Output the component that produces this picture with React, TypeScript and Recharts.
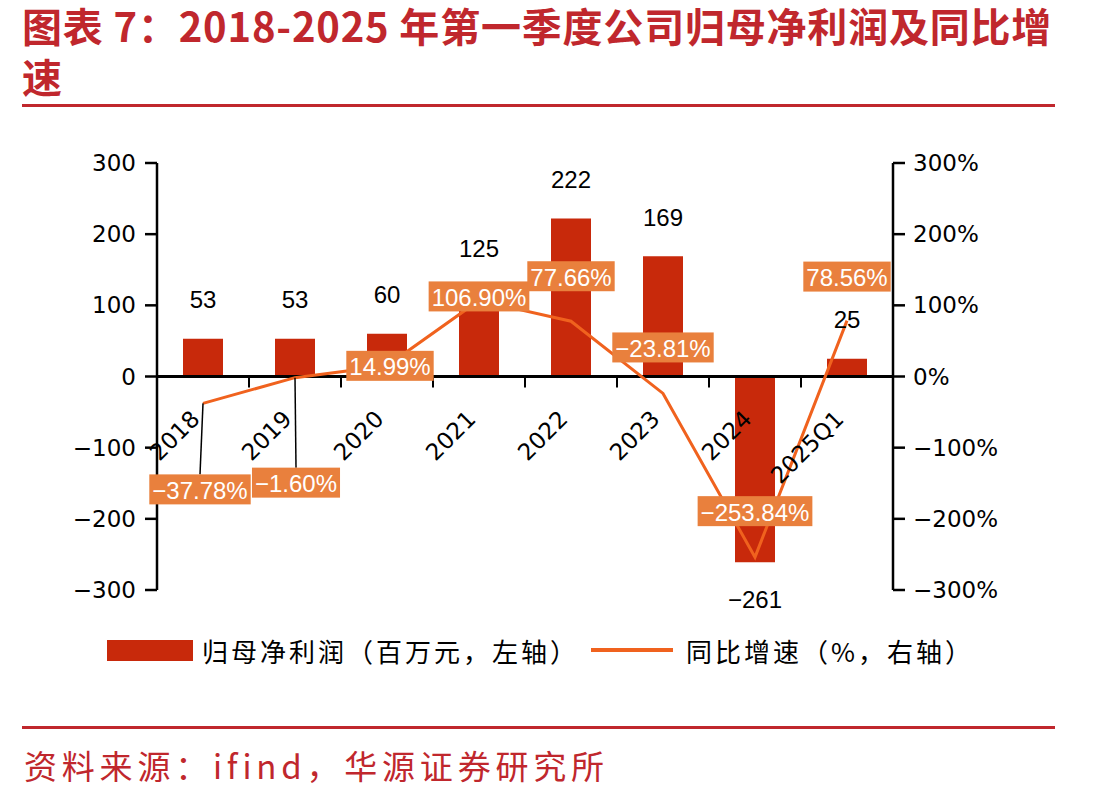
import {
  Bar,
  ComposedChart,
  LabelList,
  Legend,
  Line,
  ReferenceLine,
  XAxis,
  YAxis,
} from "recharts";

const YEARS = ["2018", "2019", "2020", "2021", "2022", "2023", "2024", "2025Q1"];
const PROFIT = [53, 53, 60, 125, 222, 169, -261, 25];
const GROWTH = [-37.78, -1.6, 14.99, 106.9, 77.66, -23.81, -253.84, 78.56];
const LEFT_TICKS = [-300, -200, -100, 0, 100, 200, 300];
const RIGHT_TICKS = [-300, -200, -100, 0, 100, 200, 300];

const data = YEARS.map((year, i) => ({ year, profit: PROFIT[i], growth: GROWTH[i] }));

const RED = "#C0272D";
const BAR = "#C8290B";
const LINE = "#F0621E";
const BOX = "#E9803D";
const NUM_FONT = "'Liberation Sans', Arial, sans-serif";
const AXIS_FONT = "'DejaVu Sans', sans-serif";
const CJK_FONT = "'Noto Sans CJK SC', sans-serif";

const W = 1113;
const H = 700;
const PLOT_TOP = 163;
const PLOT_LEFT = 157;
const PLOT_RIGHT = 893;
const PLOT_H = 427;
const ZERO_Y = PLOT_TOP + PLOT_H / 2;
const BAND = (PLOT_RIGHT - PLOT_LEFT) / YEARS.length;

// hand-moved growth labels: [dx, dy] of box centre vs. point
const GROWTH_LABEL_SHIFT: [number, number][] = [
  [-3, 86], [1, 105], [3, 0], [0, -4], [0, -45], [0, -46], [0, -46], [0, -44],
];

const fmtNum = (v: number) => (v < 0 ? `−${Math.abs(v)}` : `${v}`);
const fmtPct = (v: number) => (v < 0 ? `−${Math.abs(v).toFixed(2)}%` : `${v.toFixed(2)}%`);

// rough Arial advance widths, em
function textWidth(s: string, size: number) {
  let w = 0;
  for (const c of s) {
    if (c === ".") w += 0.278;
    else if (c === "%") w += 0.889;
    else if (c === "−") w += 0.584;
    else w += 0.556;
  }
  return w * size;
}

function XTick(props: any) {
  const { x, payload, index } = props;
  return (
    <g>
      {index > 0 && (
        <line x1={x - BAND / 2} x2={x - BAND / 2} y1={ZERO_Y} y2={ZERO_Y + 11} stroke="#000" strokeWidth={2} />
      )}
      <text
        x={x - 2} y={ZERO_Y + 44}
        transform={`rotate(-45 ${x - 2} ${ZERO_Y + 44})`}
        textAnchor="end" fontSize={23} fontFamily={AXIS_FONT} fill="#000"
      >
        {payload.value}
      </text>
    </g>
  );
}

function BarValue(props: any) {
  const vb = props.viewBox ?? props;
  const { x, y, width, height } = vb;
  const v = Number(props.value);
  const top = Math.min(y, y + height);
  const bottom = Math.max(y, y + height);
  const ty = v >= 0 ? top - 39 : bottom + 37;
  return (
    <text x={x + width / 2} y={ty} textAnchor="middle" dominantBaseline="central"
      fontSize={24} fontFamily={NUM_FONT} fill="#000">
      {fmtNum(v)}
    </text>
  );
}

function GrowthLabel(props: any) {
  const vb = props.viewBox ?? {};
  const px = props.x ?? vb.x;
  const py = props.y ?? vb.y;
  const v = Number(props.value);
  const i = props.index ?? GROWTH.indexOf(v);
  const [dx, dy] = GROWTH_LABEL_SHIFT[i] ?? [0, 0];
  const label = fmtPct(v);
  const bw = textWidth(label, 24) + 6;
  const bh = 30;
  const cx = px + dx;
  const cy = py + dy;
  return (
    <g>
      {Math.abs(dy) > 60 && (
        <line x1={px} y1={py} x2={cx} y2={cy - bh / 2} stroke="#000" strokeWidth={1.5} />
      )}
      <rect x={cx - bw / 2} y={cy - bh / 2} width={bw} height={bh} fill={BOX} />
      <text x={cx} y={cy + 1} textAnchor="middle" dominantBaseline="central"
        fontSize={24} fontFamily={NUM_FONT} fill="#fff">
        {label}
      </text>
    </g>
  );
}

function LegendContent() {
  const txt = { fontSize: 26, fontFamily: CJK_FONT, color: "#000", letterSpacing: 3 };
  return (
    <div style={{ display: "flex", alignItems: "center", paddingLeft: 107, height: 30 }}>
      <div style={{ width: 86, height: 21, background: BAR, marginRight: 9 }} />
      <span style={txt}>归母净利润（百万元，左轴）</span>
      <div style={{ width: 82, height: 4, background: LINE, marginLeft: 12, marginRight: 13 }} />
      <span style={txt}>同比增速（%，右轴）</span>
    </div>
  );
}

export default function App() {
  return (
    <div style={{ position: "absolute", left: 0, top: 0, width: W, height: 798, background: "#fff", overflow: "hidden" }}>
      <div style={{
        position: "absolute", left: 22, top: 0, width: 1080, color: RED, fontSize: 40, fontWeight: 700,
        lineHeight: "51px", fontFamily: CJK_FONT, letterSpacing: 0.8, whiteSpace: "nowrap",
      }}>
        图表 7：2018-2025 年第一季度公司归母净利润及同比增<br />速
      </div>
      <div style={{ position: "absolute", left: 22, top: 104, width: 1033, height: 3, background: RED }} />

      <div style={{ position: "absolute", left: 0, top: 0 }}>
        <ComposedChart width={W} height={H} data={data} margin={{ top: PLOT_TOP, right: 0, bottom: 35, left: 0 }}>
          <XAxis
            dataKey="year" interval={0} axisLine={false} tickLine={false}
            tickSize={0} tickMargin={0} height={45} tick={<XTick />}
          />
          <YAxis
            yAxisId="left" orientation="left" width={PLOT_LEFT}
            domain={[-300, 300]} ticks={LEFT_TICKS} interval={0}
            tickFormatter={fmtNum}
            axisLine={{ stroke: "#000", strokeWidth: 2.5 }}
            tickLine={{ stroke: "#000", strokeWidth: 2.5 }} tickSize={12} tickMargin={9}
            tick={{ fontSize: 23, fontFamily: AXIS_FONT, fill: "#000" }}
          />
          <YAxis
            yAxisId="right" orientation="right" width={W - PLOT_RIGHT}
            domain={[-300, 300]} ticks={RIGHT_TICKS} interval={0}
            tickFormatter={(v: number) => (v < 0 ? `−${Math.abs(v)}%` : `${v}%`)}
            axisLine={{ stroke: "#000", strokeWidth: 2.5 }}
            tickLine={{ stroke: "#000", strokeWidth: 2.5 }} tickSize={12} tickMargin={8}
            tick={{ fontSize: 23, fontFamily: AXIS_FONT, fill: "#000" }}
          />
          <Bar yAxisId="left" dataKey="profit" name="归母净利润（百万元，左轴）" fill={BAR} barSize={40} isAnimationActive={false}>
            <LabelList dataKey="profit" content={<BarValue />} />
          </Bar>
          <ReferenceLine yAxisId="left" y={0} stroke="#000" strokeWidth={3} />
          <Line
            yAxisId="right" dataKey="growth" name="同比增速（%，右轴）" stroke={LINE} strokeWidth={3}
            dot={false} activeDot={false} isAnimationActive={false}
          >
            <LabelList dataKey="growth" content={<GrowthLabel />} />
          </Line>
          <Legend verticalAlign="bottom" height={30} content={<LegendContent />} />
        </ComposedChart>
      </div>

      <div style={{ position: "absolute", left: 22, top: 726, width: 1033, height: 3, background: RED }} />
      <div style={{
        position: "absolute", left: 24, top: 743, color: RED, fontSize: 33, fontFamily: CJK_FONT,
        letterSpacing: 4.8, lineHeight: "44px", whiteSpace: "nowrap",
      }}>
        资料来源：ifind，华源证券研究所
      </div>
    </div>
  );
}
